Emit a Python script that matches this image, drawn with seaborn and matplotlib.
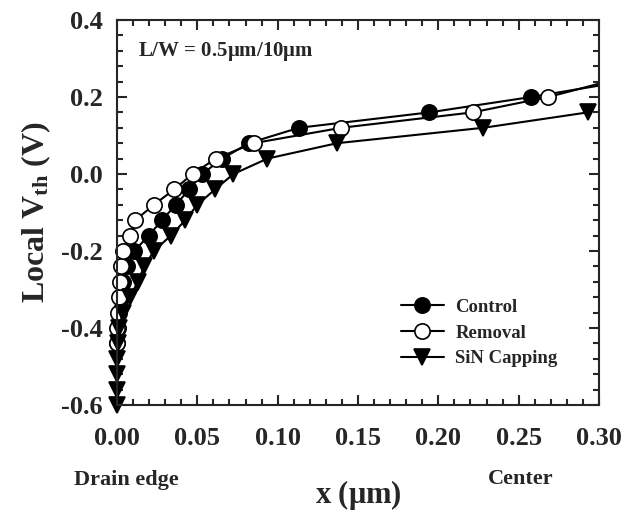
import matplotlib
matplotlib.use('Agg')
from matplotlib import pyplot as plt
from matplotlib.ticker import MultipleLocator, FormatStrFormatter
from matplotlib.transforms import Bbox, TransformedBbox
import seaborn as sns

# Local Vth along the channel (x in um, Vth in V)
control_x = [0.0, 0.0005, 0.001, 0.002, 0.004, 0.0062, 0.0108, 0.0197, 0.028, 0.0366,
             0.045, 0.053, 0.0656, 0.082, 0.1132, 0.1944, 0.2578, 0.315]
control_y = [-0.44, -0.40, -0.36, -0.32, -0.28, -0.24, -0.20, -0.16, -0.12, -0.08,
             -0.04, 0.00, 0.04, 0.08, 0.12, 0.16, 0.20, 0.24]

removal_x = [0.0, 0.0, 0.0004, 0.0015, 0.0019, 0.0025, 0.004, 0.0083, 0.0114, 0.023,
             0.0356, 0.047, 0.0615, 0.085, 0.1396, 0.2213, 0.2685, 0.305]
removal_y = [-0.44, -0.40, -0.36, -0.32, -0.28, -0.24, -0.20, -0.16, -0.12, -0.08,
             -0.04, 0.00, 0.04, 0.08, 0.12, 0.16, 0.20, 0.24]

sin_x = [0.0, 0.0, 0.0, 0.0, 0.0004, 0.0015, 0.0035, 0.0083, 0.0128, 0.017, 0.023,
         0.0335, 0.0425, 0.050, 0.061, 0.0725, 0.0936, 0.137, 0.228, 0.293]
sin_y = [-0.60, -0.56, -0.52, -0.48, -0.44, -0.40, -0.36, -0.32, -0.28, -0.24, -0.20,
         -0.16, -0.12, -0.08, -0.04, 0.00, 0.04, 0.08, 0.12, 0.16]

sns.set_style('ticks')
plt.rcParams['font.family'] = ['Liberation Serif', 'DejaVu Serif']
plt.rcParams['font.weight'] = 'bold'
plt.rcParams['axes.unicode_minus'] = False
plt.rcParams['mathtext.fontset'] = 'custom'
plt.rcParams['mathtext.rm'] = 'Liberation Serif:bold'
plt.rcParams['mathtext.bf'] = 'Liberation Serif:bold'
plt.rcParams['mathtext.it'] = 'Liberation Serif:bold'

fig = plt.figure(figsize=(6.26, 5.15), dpi=100)
ax = fig.add_axes([0.1869, 0.2136, 0.7700, 0.7476])

style = dict(color='black', linewidth=1.5, markersize=11, markeredgecolor='black',
             markeredgewidth=1.2, sort=False, estimator=None)
sns.lineplot(x=control_x, y=control_y, marker='o', markerfacecolor='black',
             label='Control', ax=ax, **style)
sns.lineplot(x=removal_x, y=removal_y, marker='o', markerfacecolor='white',
             label='Removal', ax=ax, **style)
sns.lineplot(x=sin_x, y=sin_y, marker='v', markerfacecolor='black',
             label='SiN Capping', ax=ax, **style)

ax.set_xlim(0, 0.30)
ax.set_ylim(-0.6, 0.4)

# let markers at x=0 / y=-0.6 show whole, but cut the lines at the right edge
clip = TransformedBbox(Bbox([[-0.03, -0.7], [0.300, 0.5]]), ax.transData)
for ln in ax.get_lines():
    ln.set_clip_box(clip)

ax.xaxis.set_major_locator(MultipleLocator(0.05))
ax.xaxis.set_minor_locator(MultipleLocator(0.01))
ax.yaxis.set_major_locator(MultipleLocator(0.2))
ax.yaxis.set_minor_locator(MultipleLocator(0.04))
ax.xaxis.set_major_formatter(FormatStrFormatter('%.2f'))
ax.yaxis.set_major_formatter(FormatStrFormatter('%.1f'))
ax.tick_params(which='both', direction='in', top=True, right=True, width=1.5)
ax.tick_params(which='major', length=7, labelsize=19)
ax.tick_params(axis='x', which='major', pad=16)
ax.tick_params(axis='y', which='major', pad=10)
ax.tick_params(which='minor', length=4)
for lab in ax.get_xticklabels() + ax.get_yticklabels():
    lab.set_fontweight('bold')
for sp in ax.spines.values():
    sp.set_linewidth(1.5)

ax.set_ylabel(r'Local V$_{\mathrm{th}}$ (V)', fontsize=23, fontweight='bold', labelpad=6)
ax.set_xlabel(r'x ($\mu$m)', fontsize=22, fontweight='bold', labelpad=20)

ax.text(0.043, 0.917, r'L/W = 0.5$\mu$m/10$\mu$m', transform=ax.transAxes,
        fontsize=15, fontweight='bold', va='center')
fig.text(126 / 626, 1 - 480 / 515, 'Drain edge', fontsize=16, fontweight='bold',
         ha='center', va='center')
fig.text(521 / 626, 1 - 479 / 515, 'Center', fontsize=16, fontweight='bold',
         ha='center', va='center')

leg = ax.legend(loc='upper left', bbox_to_anchor=(384 / 626, 1 - 282 / 515),
                bbox_transform=fig.transFigure, frameon=False,
                handlelength=2.3, labelspacing=0.45, handletextpad=0.6,
                prop={'weight': 'bold', 'size': 13.5})

fig.savefig('out.png', dpi=100)
